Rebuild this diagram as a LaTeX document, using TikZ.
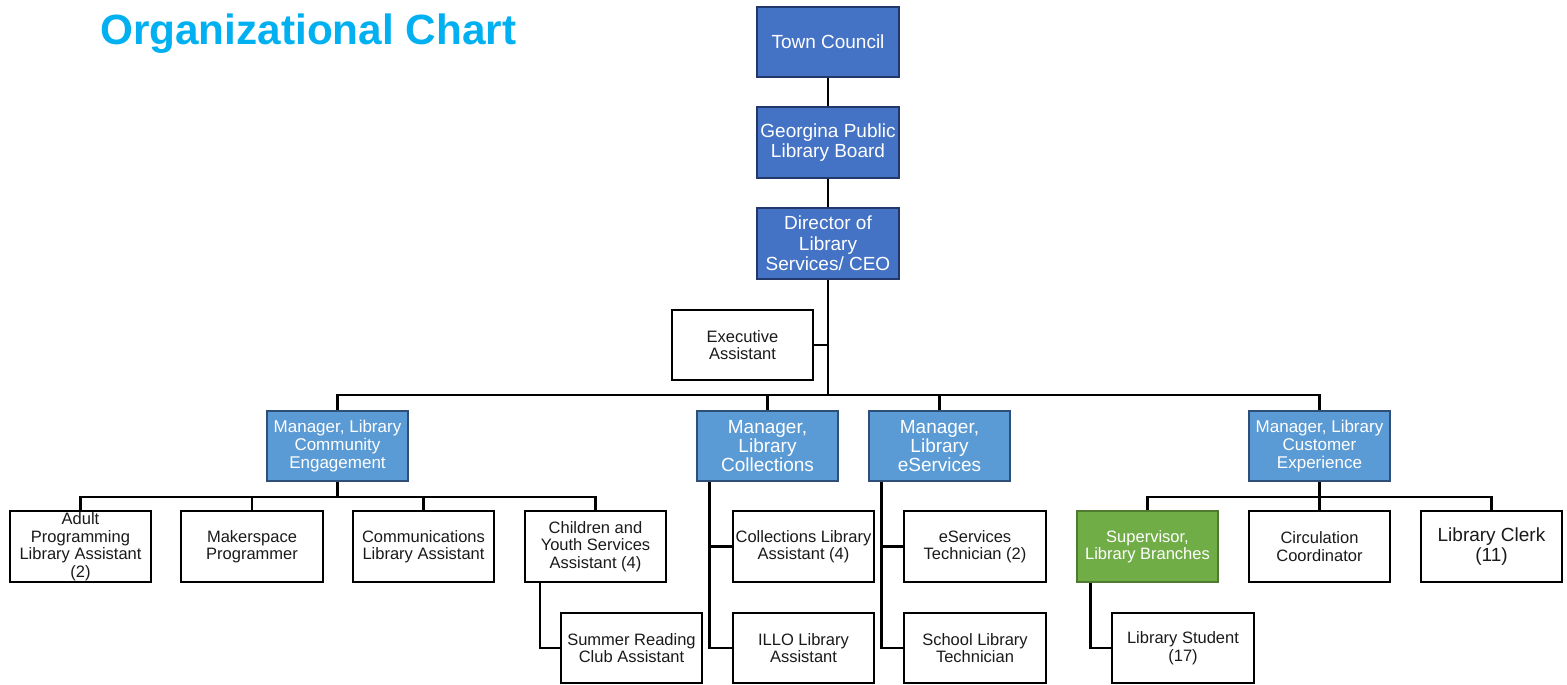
\documentclass[tikz,border=0pt]{standalone}
\usepackage{fontspec}
\setmainfont{Liberation Sans}
\definecolor{topfill}{HTML}{4472C4}
\definecolor{topdraw}{HTML}{22386A}
\definecolor{mgrfill}{HTML}{5B9BD5}
\definecolor{mgrdraw}{HTML}{2F4F78}
\definecolor{supfill}{HTML}{70AD47}
\definecolor{supdraw}{HTML}{4F7A30}
\definecolor{titleblue}{HTML}{00B0F0}
\definecolor{txt}{HTML}{1A1A1A}
\tikzset{
  boxbase/.style={rectangle, line width=2.4pt, minimum width=141.5pt, minimum height=70.5pt, inner sep=1pt, align=center},
  topbox/.style={boxbase, fill=topfill, draw=topdraw, text=white, font=\fontsize{19}{20.5}\selectfont},
  mgrbox/.style={boxbase, fill=mgrfill, draw=mgrdraw, text=white, font=\fontsize{17}{18}\selectfont},
  mgrbig/.style={mgrbox, font=\fontsize{19}{19.3}\selectfont},
  staffbox/.style={boxbase, fill=white, draw=black, text=txt, font=\fontsize{16.5}{17.5}\selectfont},
  staffbig/.style={staffbox, font=\fontsize{19}{20}\selectfont},
  supbox/.style={boxbase, fill=supfill, draw=supdraw, text=white, font=\fontsize{16.5}{17.5}\selectfont},
  conn/.style={line width=2.4pt, draw=black}
}
\begin{document}
\begin{tikzpicture}[x=1pt, y=-1pt]
\useasboundingbox (0,0) rectangle (1567,685);
\node[anchor=base west, inner sep=0pt, text=titleblue, font=\fontsize{42.3}{42.3}\selectfont\bfseries] (title) at (100,44.5) {Organizational Chart};

% top chain
\node[topbox] (tc) at (828,42) {Town Council};
\node[topbox] (board) at (828,142.5) {Georgina Public\\Library Board};
\node[topbox] (dir) at (828,243.5) {Director of\\Library\\Services/ CEO};
\node[staffbox] (ea) at (742.5,345) {Executive\\Assistant};

% managers
\node[mgrbox] (ce) at (337.5,446) {Manager, Library\\Community\\Engagement};
\node[mgrbig] (coll) at (767.5,446) {Manager,\\Library\\Collections};
\node[mgrbig] (es) at (939.5,446) {Manager,\\Library\\eServices};
\node[mgrbox] (cx) at (1319.5,446) {Manager, Library\\Customer\\Experience};

% community engagement staff
\node[staffbox] (ap) at (80.5,546.5) {Adult\\Programming\\Library Assistant\\(2)};
\node[staffbox] (mk) at (252,546.5) {Makerspace\\Programmer};
\node[staffbox] (cm) at (423.5,546.5) {Communications\\Library Assistant};
\node[staffbox] (cy) at (595.5,546.5) {Children and\\Youth Services\\Assistant (4)};
\node[staffbox] (sr) at (631.5,648) {Summer Reading\\Club Assistant};

% collections staff
\node[staffbox] (cla) at (803.5,546.5) {Collections Library\\Assistant (4)};
\node[staffbox] (ill) at (803.5,648) {ILLO Library\\Assistant};

% eservices staff
\node[staffbox] (est) at (975,546.5) {eServices\\Technician (2)};
\node[staffbox] (slt) at (975,648) {School Library\\Technician};

% customer experience staff
\node[supbox] (sup) at (1147.5,546.5) {Supervisor,\\Library Branches};
\node[staffbox] (circ) at (1319.5,546.5) {Circulation\\Coordinator};
\node[staffbig] (clerk) at (1491.5,546.5) {Library Clerk\\(11)};
\node[staffbox] (ls) at (1183,648) {Library Student\\(17)};

% connectors
\coordinate (bus) at (0,395);
\coordinate (subbus) at (0,497);
\draw[conn] (tc.south) -- (board.north);
\draw[conn] (board.south) -- (dir.north);
\draw[conn] (dir.south) -- (dir.south |- bus);
\draw[conn] (ea.east) -- (ea.east -| dir.south);
\draw[conn] (ce.north) -- (ce.north |- bus) -- (cx.north |- bus) -- (cx.north);
\draw[conn] (coll.north) -- (coll.north |- bus);
\draw[conn] (es.north) -- (es.north |- bus);

\draw[conn] (ce.south) -- (ce.south |- subbus);
\draw[conn] (ap.north) -- (ap.north |- subbus) -- (cy.north |- subbus) -- (cy.north);
\draw[conn] (mk.north) -- (mk.north |- subbus);
\draw[conn] (cm.north) -- (cm.north |- subbus);
\coordinate (cyspine) at ([xshift=-55.5pt]cy.south);
\draw[conn] (cyspine) |- (sr.west);

\coordinate (collspine) at ([xshift=14pt]coll.south west);
\draw[conn] (collspine) |- (ill.west);
\draw[conn] (collspine |- cla.west) -- (cla.west);

\coordinate (esspine) at ([xshift=14pt]es.south west);
\draw[conn] (esspine) |- (slt.west);
\draw[conn] (esspine |- est.west) -- (est.west);

\draw[conn] (cx.south) -- (cx.south |- subbus);
\draw[conn] (sup.north) -- (sup.north |- subbus) -- (clerk.north |- subbus) -- (clerk.north);
\draw[conn] (circ.north) -- (circ.north |- subbus);
\coordinate (supspine) at ([xshift=15pt]sup.south west);
\draw[conn] (supspine) |- (ls.west);
\end{tikzpicture}
\end{document}
